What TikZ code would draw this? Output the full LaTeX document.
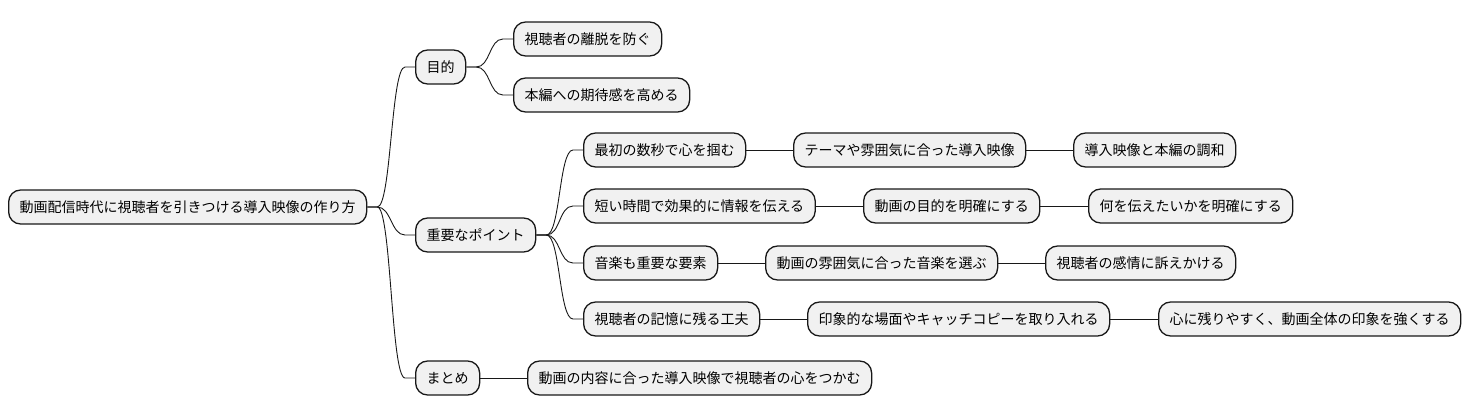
\documentclass[tikz,border=0pt]{standalone}
\usepackage{fontspec}
\setmainfont{Noto Sans CJK JP}
\definecolor{boxfill}{HTML}{F1F1F1}
\definecolor{linecolor}{HTML}{181818}
\tikzset{
  topic/.style={draw=linecolor, fill=boxfill, rounded corners=12pt, line width=1.3pt, minimum height=34pt, inner xsep=11pt, inner ysep=0pt, anchor=west, font=\fontsize{14pt}{16pt}\selectfont},
  link/.style={draw=linecolor, line width=0.9pt},
  branch/.style={link, to path={-- ++(10,0) .. controls +(14,0) and +(-14,0) .. ([xshift=-10pt]\tikztotarget) -- (\tikztotarget)}},
}

\begin{document}
\begin{tikzpicture}[x=1pt,y=-1pt]
\useasboundingbox (0,0) rectangle (1468,415);
\node[topic] (root) at (8,207) {動画配信時代に視聴者を引きつける導入映像の作り方};
\node[topic] (aim)  at (415,67)  {目的};
\node[topic] (keys) at (415,235) {重要なポイント};
\node[topic] (sum)  at (415,378) {まとめ};
\node[topic] (aimLeave)  at (513,39) {視聴者の離脱を防ぐ};
\node[topic] (aimExpect) at (513,95) {本編への期待感を高める};
\node[topic] (kOpen)   at (583,150) {最初の数秒で心を掴む};
\node[topic] (kShort)  at (583,206) {短い時間で効果的に情報を伝える};
\node[topic] (kMusic)  at (583,263) {音楽も重要な要素};
\node[topic] (kMemory) at (583,319) {視聴者の記憶に残る工夫};
\node[topic] (kOpenTheme)   at (793,150)  {テーマや雰囲気に合った導入映像};
\node[topic] (kOpenMatch)   at (1073,150) {導入映像と本編の調和};
\node[topic] (kShortGoal)   at (863,206)  {動画の目的を明確にする};
\node[topic] (kShortWhat)   at (1088,206) {何を伝えたいかを明確にする};
\node[topic] (kMusicPick)   at (765,263)  {動画の雰囲気に合った音楽を選ぶ};
\node[topic] (kMusicFeel)   at (1045,263) {視聴者の感情に訴えかける};
\node[topic] (kMemoryScene) at (807,319)  {印象的な場面やキャッチコピーを取り入れる};
\node[topic] (kMemoryStrong) at (1158,319) {心に残りやすく、動画全体の印象を強くする};
\node[topic] (sumText) at (527,378) {動画の内容に合った導入映像で視聴者の心をつかむ};
\draw[branch] (root.east) to (aim.west);
\draw[branch] (root.east) to (keys.west);
\draw[branch] (root.east) to (sum.west);
\draw[branch] (aim.east) to (aimLeave.west);
\draw[branch] (aim.east) to (aimExpect.west);
\draw[branch] (keys.east) to (kOpen.west);
\draw[branch] (keys.east) to (kShort.west);
\draw[branch] (keys.east) to (kMusic.west);
\draw[branch] (keys.east) to (kMemory.west);
\draw[link] (kOpen) -- (kOpenTheme);
\draw[link] (kOpenTheme) -- (kOpenMatch);
\draw[link] (kShort) -- (kShortGoal);
\draw[link] (kShortGoal) -- (kShortWhat);
\draw[link] (kMusic) -- (kMusicPick);
\draw[link] (kMusicPick) -- (kMusicFeel);
\draw[link] (kMemory) -- (kMemoryScene);
\draw[link] (kMemoryScene) -- (kMemoryStrong);
\draw[link] (sum) -- (sumText);
\end{tikzpicture}
\end{document}
